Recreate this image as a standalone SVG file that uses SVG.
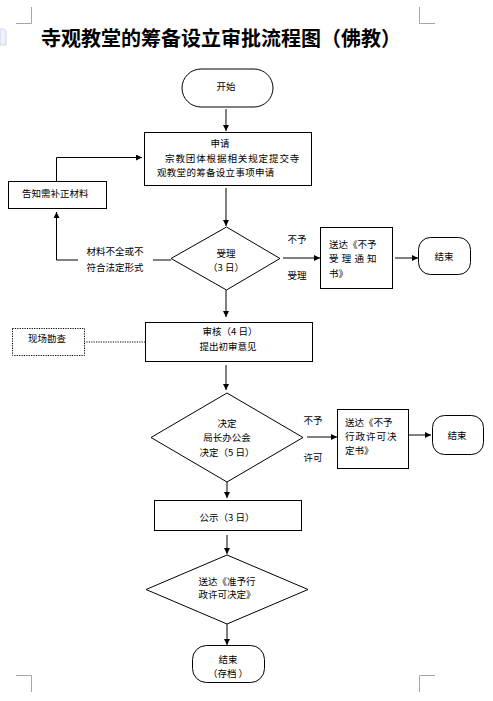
<svg xmlns="http://www.w3.org/2000/svg" width="493" height="701" viewBox="0 0 493 701">
<style>
  .t { font-family: "Noto Sans CJK SC", "Liberation Sans", sans-serif; font-size: 9.5px; fill: #000; dominant-baseline: central; }
  .c { text-anchor: middle; }
  .box { fill: #fff; stroke: #000; stroke-width: 1; }
  .ln { fill: none; stroke: #000; stroke-width: 1; }
  .corner { fill: none; stroke: #a6a6a6; stroke-width: 1; }
</style>
<defs>
  <marker id="arr" viewBox="0 0 10 10" refX="10" refY="5" markerWidth="6" markerHeight="6" orient="auto" markerUnits="userSpaceOnUse">
    <path d="M0,0 L10,5 L0,10 z" fill="#000"/>
  </marker>
</defs>
<rect width="493" height="701" fill="#fff"/>
<!-- page corner marks -->
<path class="corner" d="M31.5,7 V23.5 H16 M419.5,7 V23.5 H435 M16,675.5 H31.5 V692 M435,675.5 H419.5 V692"/>
<path d="M0,29 H4 L6,31 V45 H0 z" fill="#eef2fa" stroke="#c4cde0" stroke-width="0.8"/>
<text x="221" y="37" font-family="Noto Sans CJK SC, sans-serif" font-size="20" font-weight="bold" text-anchor="middle" dominant-baseline="central" fill="#000">寺观教堂的筹备设立审批流程图（佛教）</text>

<g id="connectors">
  <line class="ln" x1="226" y1="109" x2="226" y2="131" marker-end="url(#arr)"/>
  <line class="ln" x1="226" y1="188" x2="226" y2="226" marker-end="url(#arr)"/>
  <polyline class="ln" points="78,260 56.5,260 56.5,212" marker-end="url(#arr)"/>
  <line class="ln" x1="153" y1="260" x2="171" y2="260"/>
  <polyline class="ln" points="56.5,181 56.5,157.5 142,157.5" marker-end="url(#arr)"/>
  <line class="ln" x1="283" y1="258" x2="320" y2="258" marker-end="url(#arr)"/>
  <line class="ln" x1="395" y1="258" x2="418" y2="258" marker-end="url(#arr)"/>
  <line class="ln" x1="226" y1="290" x2="226" y2="317" marker-end="url(#arr)"/>
  <line x1="84" y1="342" x2="145" y2="342" stroke="#000" stroke-width="1" stroke-dasharray="1.2,1.2"/>
  <line class="ln" x1="226" y1="365" x2="226" y2="390" marker-end="url(#arr)"/>
  <line class="ln" x1="307" y1="437" x2="337" y2="437" marker-end="url(#arr)"/>
  <line class="ln" x1="409" y1="435" x2="431" y2="435" marker-end="url(#arr)"/>
  <line class="ln" x1="227" y1="482" x2="227" y2="498" marker-end="url(#arr)"/>
  <line class="ln" x1="227" y1="535" x2="227" y2="554" marker-end="url(#arr)"/>
  <line class="ln" x1="227" y1="624" x2="227" y2="645" marker-end="url(#arr)"/>
  <text class="t c" x="115" y="251">材料不全或不</text>
  <text class="t c" x="115" y="267">符合法定形式</text>
  <text class="t c" x="297" y="239">不予</text>
  <text class="t c" x="297" y="275">受理</text>
  <text class="t c" x="313" y="420">不予</text>
  <text class="t c" x="313" y="457">许可</text>
</g>

<g id="start">
  <rect class="box" x="182" y="69" width="91" height="38" rx="19" ry="19"/>
  <text class="t c" x="226" y="86">开始</text>
</g>
<g id="apply">
  <rect class="box" x="144.5" y="132.5" width="167" height="53"/>
  <text class="t c" x="220" y="143">申请</text>
  <text class="t" x="165" y="158" letter-spacing="0.9">宗教团体根据相关规定提交寺</text>
  <text class="t" x="157" y="172" letter-spacing="0.3">观教堂的筹备设立事项申请</text>
</g>
<g id="notify">
  <rect class="box" x="8.5" y="181.5" width="98" height="27"/>
  <text class="t" x="22" y="193">告知需补正材料</text>
</g>
<g id="accept">
  <polygon class="box" points="226.5,227 280,258.5 226.5,290 171,258.5"/>
  <text class="t c" x="226" y="253">受理</text>
  <text class="t c" x="226" y="267">（3 日）</text>
</g>
<g id="reject1">
  <rect class="box" x="320.5" y="227.5" width="72" height="61"/>
  <text class="t" x="329" y="244">送达《不予</text>
  <text class="t" x="329" y="258" letter-spacing="3.2">受理通知</text>
  <text class="t" x="329" y="273">书》</text>
</g>
<g id="end1">
  <rect class="box" x="418.5" y="237.5" width="52" height="37" rx="12" ry="12"/>
  <text class="t c" x="444" y="256">结束</text>
</g>
<g id="survey">
  <rect x="12.5" y="328.5" width="72" height="27" fill="#fff" stroke="#000" stroke-width="1" stroke-dasharray="1.2,1.2"/>
  <text class="t c" x="47" y="338">现场勘查</text>
</g>
<g id="review">
  <rect class="box" x="145.5" y="322.5" width="167" height="39"/>
  <text class="t c" x="230" y="331">审核（4 日）</text>
  <text class="t c" x="228" y="346">提出初审意见</text>
</g>
<g id="decide">
  <polygon class="box" points="227,393 303,437.5 227,482 151,437.5"/>
  <text class="t c" x="227" y="423">决定</text>
  <text class="t c" x="227" y="437">局长办公会</text>
  <text class="t c" x="227" y="452">决定（5 日）</text>
</g>
<g id="reject2">
  <rect class="box" x="337.5" y="409.5" width="71" height="59"/>
  <text class="t" x="345" y="422">送达《不予</text>
  <text class="t" x="345" y="436" letter-spacing="1">行政许可决</text>
  <text class="t" x="345" y="450">定书》</text>
</g>
<g id="end2">
  <rect class="box" x="432.5" y="415.5" width="51" height="39" rx="12" ry="12"/>
  <text class="t c" x="457" y="435">结束</text>
</g>
<g id="publish">
  <rect class="box" x="154.5" y="500.5" width="147" height="30"/>
  <text class="t c" x="227" y="517">公示（3 日）</text>
</g>
<g id="deliver">
  <polygon class="box" points="227,555 308,589.5 227,624 146,589.5"/>
  <text class="t c" x="227" y="581">送达《准予行</text>
  <text class="t c" x="227" y="594">政许可决定》</text>
</g>
<g id="end3">
  <rect class="box" x="192.5" y="645.5" width="72" height="37" rx="14" ry="14"/>
  <text class="t c" x="228" y="659">结束</text>
  <text class="t c" x="228" y="673">（存档 ）</text>
</g>
</svg>
